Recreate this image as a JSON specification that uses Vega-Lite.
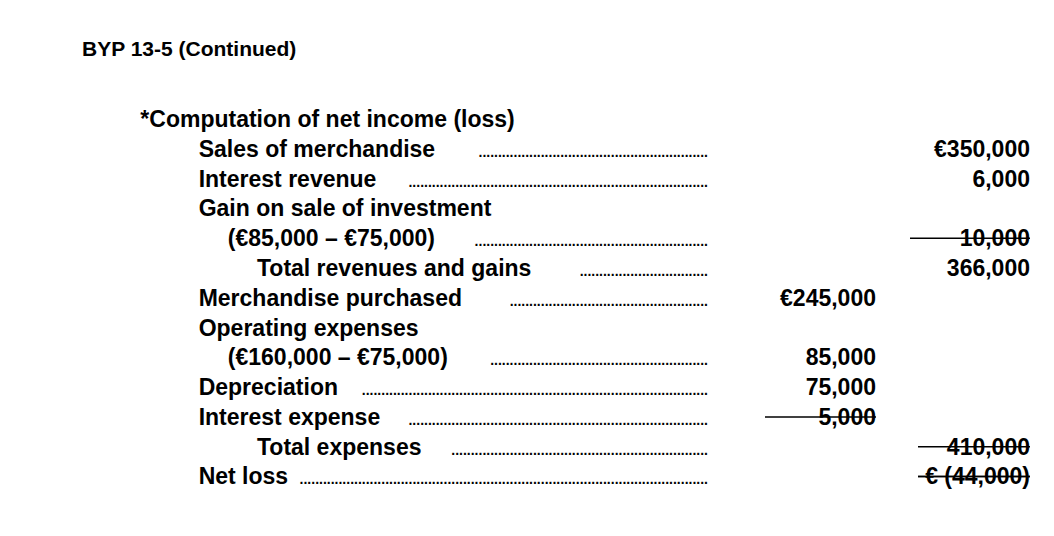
{
  "$schema": "https://vega.github.io/schema/vega-lite/v6.json",
  "width": 1054,
  "height": 536,
  "autosize": {"type": "fit", "contains": "padding"},
  "padding": 0,
  "background": "white",
  "config": {"view": {"stroke": null}},
  "datasets": {
    "rows": [
      {"line": -2.4, "level": -4, "label": "BYP 13-5 (Continued)", "size": "title", "dots": 0, "mid": "", "right": ""},
      {"line": 0, "level": -2, "label": "*Computation of net income (loss)", "size": "body", "dots": 0, "mid": "", "right": ""},
      {"line": 1, "level": 0, "label": "Sales of merchandise", "size": "body", "dots": 59, "mid": "", "right": "€350,000"},
      {"line": 2, "level": 0, "label": "Interest revenue", "size": "body", "dots": 77, "mid": "", "right": "6,000"},
      {"line": 3, "level": 0, "label": "Gain on sale of investment", "size": "body", "dots": 0, "mid": "", "right": ""},
      {"line": 4, "level": 1, "label": "(€85,000 – €75,000)", "size": "body", "dots": 60, "mid": "", "right": "10,000"},
      {"line": 5, "level": 2, "label": "Total revenues and gains", "size": "body", "dots": 33, "mid": "", "right": "366,000"},
      {"line": 6, "level": 0, "label": "Merchandise purchased", "size": "body", "dots": 51, "mid": "€245,000", "right": ""},
      {"line": 7, "level": 0, "label": "Operating expenses", "size": "body", "dots": 0, "mid": "", "right": ""},
      {"line": 8, "level": 1, "label": "(€160,000 – €75,000)", "size": "body", "dots": 56, "mid": "85,000", "right": ""},
      {"line": 9, "level": 0, "label": "Depreciation", "size": "body", "dots": 89, "mid": "75,000", "right": ""},
      {"line": 10, "level": 0, "label": "Interest expense", "size": "body", "dots": 77, "mid": "5,000", "right": ""},
      {"line": 11, "level": 2, "label": "Total expenses", "size": "body", "dots": 66, "mid": "", "right": "410,000"},
      {"line": 12, "level": 0, "label": "Net loss", "size": "body", "dots": 105, "mid": "", "right": "€ (44,000)"}
    ],
    "rules": [
      {"line": 4, "from": "rightL", "to": "right", "gap": 0},
      {"line": 10, "from": "midL", "to": "mid", "gap": 0},
      {"line": 11, "from": "rightL2", "to": "right", "gap": 0},
      {"line": 12, "from": "rightL2", "to": "right", "gap": 0},
      {"line": 12, "from": "rightL2", "to": "right", "gap": 3}
    ]
  },
  "data": {"name": "rows"},
  "resolve": {"scale": {"x": "independent"}},
  "layer": [
    {
      "mark": {"type": "text", "align": "left", "baseline": "alphabetic", "dy": 8, "font": "Liberation Sans", "fontWeight": "bold", "color": "black"},
      "encoding": {
        "x": {"field": "level", "type": "quantitative", "scale": {"domain": [-4, 2], "range": [82, 257]}, "axis": null},
        "y": {"field": "line", "type": "quantitative", "scale": {"domain": [-4, 13.5], "range": [0, 536]}, "axis": null},
        "text": {"field": "label"},
        "size": {"field": "size", "type": "nominal", "scale": {"domain": ["title", "body"], "range": [21, 23]}, "legend": null}
      }
    },
    {
      "transform": [
        {"filter": "datum.dots > 0"},
        {"calculate": "pad('', datum.dots, '.')", "as": "leader"}
      ],
      "mark": {"type": "text", "align": "right", "baseline": "alphabetic", "dy": 8, "font": "Liberation Sans", "fontWeight": "bold", "fontSize": 14, "color": "black"},
      "encoding": {
        "x": {"datum": 0, "type": "quantitative", "scale": {"domain": [0, 1], "range": [708, 709]}, "axis": null},
        "y": {"field": "line", "type": "quantitative"},
        "text": {"field": "leader"}
      }
    },
    {
      "transform": [
        {"fold": ["mid", "right"], "as": ["col", "val"]},
        {"filter": "datum.val != ''"},
        {"calculate": "indexof(['midL', 'mid', 'rightL', 'rightL2', 'right'], datum.col)", "as": "ci"}
      ],
      "mark": {"type": "text", "align": "right", "baseline": "alphabetic", "dy": 8, "font": "Liberation Sans", "fontWeight": "bold", "fontSize": 23, "color": "black"},
      "encoding": {
        "x": {"field": "ci", "type": "quantitative", "scale": {"domain": [0, 1, 2, 3, 4], "range": [765, 876, 910, 918, 1030]}, "axis": null},
        "y": {"field": "line", "type": "quantitative"},
        "text": {"field": "val"}
      }
    },
    {
      "data": {"name": "rules"},
      "transform": [
        {"calculate": "indexof(['midL', 'mid', 'rightL', 'rightL2', 'right'], datum.from)", "as": "fi"},
        {"calculate": "indexof(['midL', 'mid', 'rightL', 'rightL2', 'right'], datum.to)", "as": "ti"}
      ],
      "mark": {"type": "rule", "color": "black", "strokeWidth": 1.5},
      "encoding": {
        "x": {"field": "fi", "type": "quantitative", "scale": {"domain": [0, 1, 2, 3, 4], "range": [765, 876, 910, 918, 1030]}, "axis": null},
        "x2": {"field": "ti"},
        "y": {"field": "line", "type": "quantitative"},
        "yOffset": {"field": "gap", "type": "quantitative", "scale": {"domain": [0, 3], "range": [13, 16]}, "legend": null}
      }
    }
  ]
}
